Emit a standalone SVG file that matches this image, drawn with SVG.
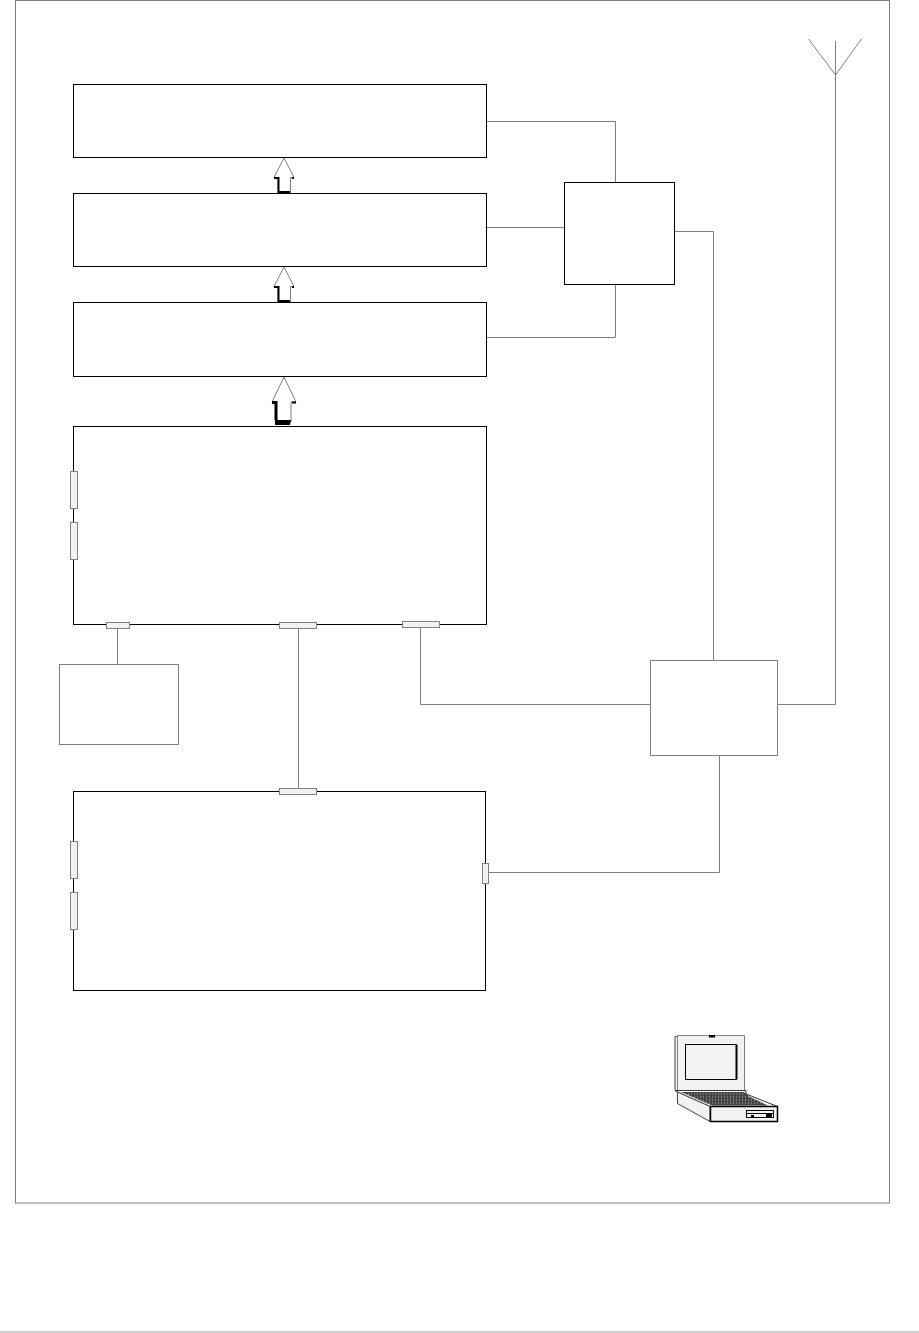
<svg xmlns="http://www.w3.org/2000/svg" width="919" height="1333" viewBox="0 0 919 1333">
<style>
.box{fill:#fff;stroke:#000;stroke-width:1}
.gbox{fill:#fff;stroke:#808080;stroke-width:1}
.port{fill:#f2f2f2;stroke:#808080;stroke-width:1}
.wire{fill:none;stroke:#808080;stroke-width:1}
.arrow{fill:#fff;stroke:#808080;stroke-width:1}
.shade{fill:none;stroke:#000}
</style>
<rect width="919" height="1333" fill="#fff"/>
<rect id="frame" x="15.500" y="0.500" width="874" height="1202.500" fill="none" stroke="#808080"/>
<rect id="footer" x="0" y="1331" width="919" height="2" fill="#cfcfcf"/>
<g id="connectors">
<path class="wire" d="M486 121.500H615.500V183"/>
<path class="wire" d="M486 227.500H565"/>
<path class="wire" d="M486 337.500H615.500V284"/>
<path class="wire" d="M674 231.500H713.500V661"/>
<path class="wire" d="M117.500 629V665"/>
<path class="wire" d="M298.500 629V788"/>
<path class="wire" d="M420.500 628V704.500H651"/>
<path class="wire" d="M777 704.500H835.500V41"/>
<path class="wire" d="M719.500 755V872.500H487"/>
<path class="wire" d="M808.500 39L835.500 75L861.500 39"/>
</g>
<g id="node-1"><rect class="box" x="73.500" y="84.500" width="413" height="73"/></g>
<g id="node-2"><rect class="box" x="73.500" y="193.500" width="413" height="73"/></g>
<g id="node-3"><rect class="box" x="73.500" y="302.500" width="413" height="74"/></g>
<g id="node-4">
<rect class="box" x="73.500" y="426.500" width="413" height="198"/>
<rect class="port" x="70.500" y="471.500" width="7" height="37"/>
<rect class="port" x="70.500" y="522.500" width="7" height="37"/>
<rect class="port" x="106.500" y="622.500" width="23" height="6"/>
<rect class="port" x="279.500" y="622.500" width="37" height="6"/>
<rect class="port" x="402.500" y="621.500" width="37" height="6"/>
</g>
<g id="node-5">
<rect class="box" x="73.500" y="791.500" width="412" height="199"/>
<rect class="port" x="279.500" y="788.500" width="37" height="6"/>
<rect class="port" x="70.500" y="841.500" width="7" height="37"/>
<rect class="port" x="70.500" y="892.500" width="7" height="37"/>
<rect class="port" x="482.500" y="863.500" width="6" height="20"/>
</g>
<g id="node-6"><rect class="gbox" x="59.500" y="664.500" width="119" height="80"/></g>
<g id="node-7"><rect class="box" x="564.500" y="182.500" width="110" height="102"/></g>
<g id="node-8"><rect class="gbox" x="650.500" y="660.500" width="127" height="95"/></g>
<g id="arrow-1">
<path class="arrow" d="M284 158L294 177.500H290.500V192.500H278V177.500H274Z"/>
<path class="shade" stroke-width="2" d="M274 178H278.500V192H290M292 178H294"/>
</g>
<g id="arrow-2">
<path class="arrow" d="M284 267L294 286.500H290.500V301.500H278V286.500H274Z"/>
<path class="shade" stroke-width="2" d="M274 287H278.500V301H290M292 287H294"/>
</g>
<g id="arrow-3">
<path class="arrow" d="M284 377L296 402H291V422H276V402H272Z"/>
<path class="shade" stroke-width="3" d="M272 402.500H276V420"/>
<path d="M275 420H291L290 425H275Z" fill="#000"/>
<path class="shade" stroke-width="2" d="M292 402.500H296"/>
</g>
<g id="laptop">
<path fill="#f2f2f2" stroke="#444" d="M675 1036.500V1090.500H678V1036.500Z"/>
<path fill="#f2f2f2" stroke="#808080" d="M677.500 1035.500H744.500V1091H677.500Z"/>
<rect x="709" y="1035" width="6" height="2.500" fill="#000" transform="translate(0 0)"/>
<rect x="685.500" y="1044.500" width="51" height="35" fill="#f2f2f2" stroke="#000"/>
<path d="M736.500 1045V1079" stroke="#000" stroke-width="2" fill="none"/>
<path fill="#fff" stroke="#333" d="M675 1090.500H746V1094L777.500 1106.500H710L677.500 1092Z"/>
<path fill="#444" d="M681 1092H744L750 1097L768 1105.500H712Z"/>
<path fill="none" stroke="#bbb" stroke-dasharray="1 2" d="M688 1094H745M694 1097H750M700 1100H756M706 1103H762"/>
<path fill="#f2f2f2" stroke="#444" d="M677.500 1092V1103.500L710 1121.500V1106.500Z"/>
<rect x="710.500" y="1106.500" width="67" height="15" fill="#f2f2f2" stroke="#000" stroke-width="1.500"/>
<rect x="746.500" y="1110.500" width="27" height="7" fill="#f2f2f2" stroke="#000"/>
<path d="M747 1113.500H773" stroke="#000" fill="none"/>
<rect x="751" y="1115" width="3" height="2.500" fill="#000"/>
<rect x="766" y="1113" width="6" height="4" fill="#000"/>
</g>
</svg>
